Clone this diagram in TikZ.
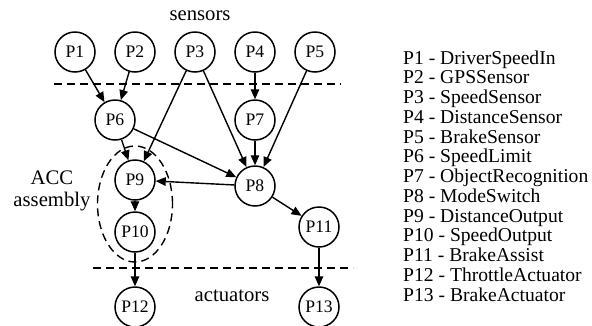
\documentclass[tikz,border=0pt]{standalone}
\usepackage{fontspec}
\setmainfont{Liberation Serif}
\usetikzlibrary{arrows.meta,shapes.geometric}
\begin{document}
\begin{tikzpicture}[x=1pt,y=-1pt,
  proc/.style={circle,draw,line width=1.5pt,minimum size=40pt,inner sep=0pt,font=\fontsize{17.6}{18}\selectfont},
  arr/.style={line width=1.4pt,-{Triangle[length=10pt,width=8.5pt]}},
  sep/.style={line width=1.4pt,dash pattern=on 8pt off 5pt},
  lbl/.style={font=\fontsize{20.7}{21}\selectfont,inner sep=0pt},
  leg/.style={anchor=base west,inner sep=0pt,font=\fontsize{19.6}{20}\selectfont}]
\useasboundingbox (0,0) rectangle (592,325);
\node[proc] (p1) at (75,52) {P1};
\node[proc] (p2) at (135,52) {P2};
\node[proc] (p3) at (195,52) {P3};
\node[proc] (p4) at (255,52) {P4};
\node[proc] (p5) at (315,52) {P5};
\node[proc] (p6) at (115,120) {P6};
\node[proc] (p7) at (255,120) {P7};
\node[proc] (p9) at (135,180) {P9};
\node[proc] (p8) at (255,186) {P8};
\node[proc] (p10) at (135,232) {P10};
\node[proc] (p11) at (319,227) {P11};
\node[proc] (p12) at (135,307) {P12};
\node[proc] (p13) at (319,307) {P13};
\coordinate (t1) at (54,84); \coordinate (t2) at (341,84);
\coordinate (b1) at (93,268); \coordinate (b2) at (353,268);
\draw[sep] (t1) -- (t2);
\draw[sep] (b1) -- (b2);
\node[draw,ellipse,sep,minimum width=75pt,minimum height=116pt] (acc) at (135,204) {};
\node[lbl] (sens) at (200,16) {sensors};
\node[lbl] (act) at (232,296) {actuators};
\node[lbl,align=center] (accl) at (52,191) {ACC\\[1pt]assembly};
\draw[arr] (p1) -- (p6);
\draw[arr] (p2) -- (p6);
\draw[arr] (p3) -- (p9);
\draw[arr] (p3) -- (p8);
\draw[arr] (p4) -- (p7);
\draw[arr] (p5) -- (p8);
\draw[arr] (p6) -- (p9);
\draw[arr] (p6) -- (p8);
\draw[arr] (p7) -- (p8);
\draw[arr] (p8) -- (p9);
\draw[arr] (p8) -- (p11);
\draw[arr] (p9) -- (p10);
\draw[arr] (p10) -- (p12);
\draw[arr] (p11) -- (p13);
\foreach \t [count=\i from 0] in {P1 - DriverSpeedIn,P2 - GPSSensor,P3 - SpeedSensor,P4 - DistanceSensor,P5 - BrakeSensor,P6 - SpeedLimit,P7 - ObjectRecognition,P8 - ModeSwitch,P9 - DistanceOutput,P10 - SpeedOutput,P11 - BrakeAssist,P12 - ThrottleActuator,P13 - BrakeActuator}
  \node[leg] (leg\i) at (403,{64+19.75*\i}) {\t};
\end{tikzpicture}
\end{document}
